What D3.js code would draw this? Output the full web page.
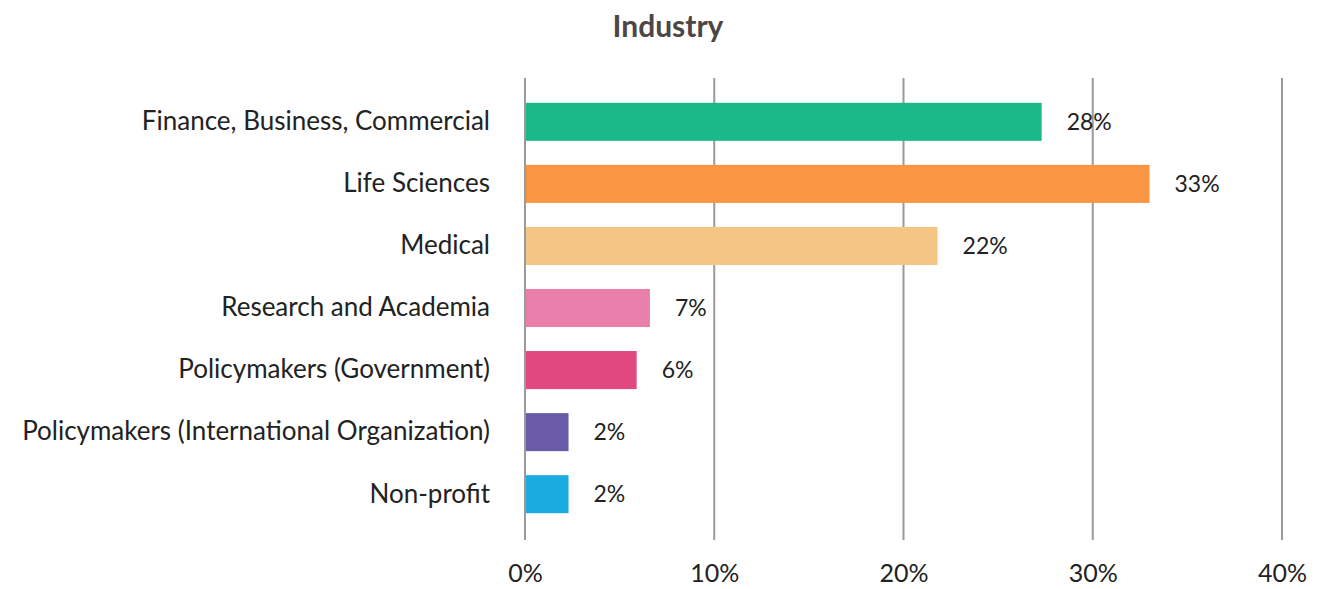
<!DOCTYPE html>
<html>
<head>
<meta charset="utf-8">
<script src="https://cdn.jsdelivr.net/npm/d3@7"></script>
<style>
  body { margin: 0; background: #fff; }
  text { font-family: Lato, "Open Sans", sans-serif; }
</style>
</head>
<body>
<svg></svg>
<script>
var categories = ["Finance, Business, Commercial", "Life Sciences", "Medical", "Research and Academia",
    "Policymakers (Government)", "Policymakers (International Organization)", "Non-profit"];
var values = [27.3, 33.0, 21.8, 6.6, 5.9, 2.3, 2.3];
var labels = ["28%", "33%", "22%", "7%", "6%", "2%", "2%"];
var colors = ["#1bb98a", "#f99543", "#f4c584", "#e97fab", "#e0487f", "#6a5ba8", "#1aace0"];
var ticks = [0, 10, 20, 30, 40];

var w = 1326, h = 589;
var font = "Lato, 'Open Sans', sans-serif";

var svg = d3.select("svg")
    .attr("width", w)
    .attr("height", h);

var x = d3.scaleLinear().domain([0, 40]).range([525, 1282]);
var y = d3.scaleBand().domain(categories).range([91, 525]).paddingInner(0.387).paddingOuter(0.19);

// title
svg.append("text")
    .attr("x", 668)
    .attr("y", 37)
    .attr("text-anchor", "middle")
    .attr("font-size", 30)
    .attr("font-weight", "bold")
    .attr("fill", "#4d4646")
    .text("Industry");

// grid lines
svg.selectAll(".grid")
    .data(ticks)
    .enter().append("line")
    .attr("class", "grid")
    .attr("x1", d => x(d))
    .attr("x2", d => x(d))
    .attr("y1", 78)
    .attr("y2", 540)
    .attr("stroke", "#9a9a9a")
    .attr("stroke-width", 2);

// tick labels
var xAxis = d3.axisBottom(x).tickValues(ticks).tickFormat(d => d + "%").tickSize(0).tickPadding(0);
var gx = svg.append("g").attr("transform", "translate(0,582)").call(xAxis);
gx.select(".domain").remove();
gx.selectAll("text")
    .attr("font-size", 25)
    .attr("fill", "#222")
    .attr("dy", "0")
    .style("font-family", font);

// bars
svg.selectAll(".bar")
    .data(categories)
    .enter().append("rect")
    .attr("class", "bar")
    .attr("x", x(0) + 1)
    .attr("y", d => y(d))
    .attr("width", (d, i) => x(values[i]) - x(0) - 1)
    .attr("height", y.bandwidth())
    .attr("fill", (d, i) => colors[i]);

// category labels
var yAxis = d3.axisLeft(y).tickSize(0).tickPadding(35);
var gy = svg.append("g").attr("transform", "translate(" + x(0) + ",0)").call(yAxis);
gy.select(".domain").remove();
gy.selectAll("text")
    .attr("font-size", 26)
    .attr("fill", "#222")
    .style("font-family", font);

// value labels
svg.selectAll(".val")
    .data(categories)
    .enter().append("text")
    .attr("class", "val")
    .attr("x", (d, i) => x(values[i]) + 25)
    .attr("y", d => y(d) + y.bandwidth() / 2)
    .attr("dy", "0.36em")
    .attr("font-size", 23)
    .attr("fill", "#222")
    .text((d, i) => labels[i]);
</script>
</body>
</html>
